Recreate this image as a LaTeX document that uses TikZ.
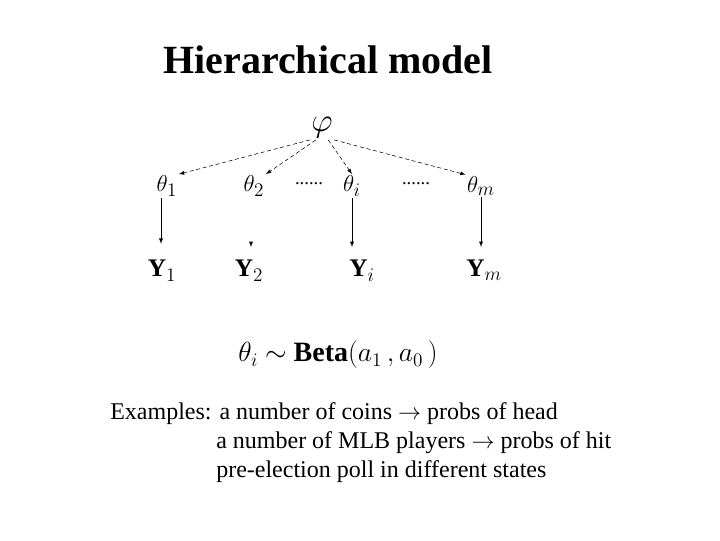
\documentclass[tikz,border=0pt]{standalone}
\usepackage{fontspec}
\setmainfont{Liberation Serif}
\begin{document}
\begin{tikzpicture}[x=0.75pt,y=-0.75pt,
  var/.style={inner sep=1pt,font=\fontsize{19}{22}\selectfont},
  yv/.style={var,text height=13pt,text depth=3pt},
  dsh/.style={-latex,densely dashed,thin},
  sol/.style={-latex,thin},
  txt/.style={anchor=west,inner sep=0pt,font=\fontsize{18}{21}\selectfont}]
\useasboundingbox (0,0) rectangle (720,540);
\node (title) at (328,60) {\fontsize{30}{34}\selectfont\bfseries Hierarchical model};
\node[var,font=\fontsize{27}{30}\selectfont] (phi) at (322,128) {$\varphi$};
\node[var] (t1) at (167,186) {$\theta_1$};
\node[var] (t2) at (254,186) {$\theta_2$};
\node[var] (ti) at (352,186) {$\theta_i$};
\node[var] (tm) at (481,186) {$\theta_m$};
\node[var,font=\fontsize{14}{16}\selectfont] (d1) at (309,184) {......};
\node[var,font=\fontsize{14}{16}\selectfont] (d2) at (416,184) {......};
\node[yv] (y1) at (162,270) {$\mathbf{Y}_1$};
\node[yv] (y2) at (249,270) {$\mathbf{Y}_2$};
\node[yv] (yi) at (362,270) {$\mathbf{Y}_i$};
\node[yv] (ym) at (484,270) {$\mathbf{Y}_m$};
\draw[dsh] (phi.south west) -- (t1.north east);
\draw[dsh] (phi.south west) ++(6,0) -- (t2.north east);
\draw[dsh] (phi.south east) ++(-6,0) -- (ti.north);
\draw[dsh] (phi.south east) -- (tm.north west);
\draw[sol] (t1.south) ++(-6,0) -- ++(0,46);
\coordinate (a2) at (251,244);
\draw[sol] (a2) -- ++(0,3);
\draw[sol] (ti.south) -- (ti.south |- 0,247);
\draw[sol] (tm.south) -- (tm.south |- 0,247);
\node (beta) at (338,355) {\fontsize{21}{25}\selectfont $\theta_i$ $\sim$ \textbf{Beta}$(a_1\,,a_0\,)$};
\node[txt] (e1) at (110,414) {Examples: a number of coins $\rightarrow$ probs of head};
\node[txt] (e2) at (216,443) {a number of MLB players $\rightarrow$ probs of hit};
\node[txt] (e3) at (216,472) {pre-election poll in different states};
\end{tikzpicture}
\end{document}
